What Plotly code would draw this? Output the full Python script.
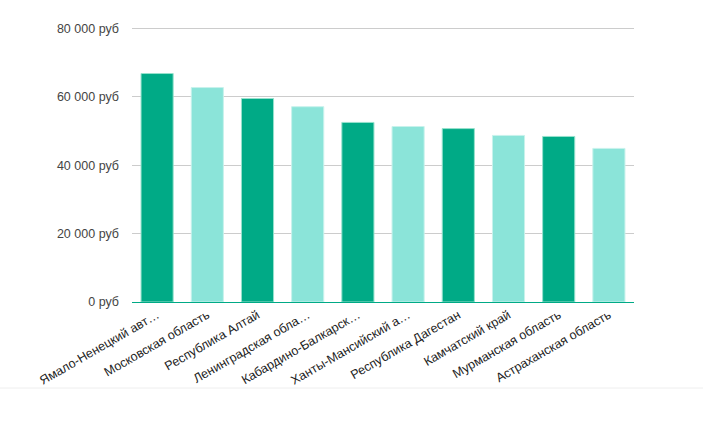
import plotly.graph_objects as go

regions = [
    "Ямало-Ненецкий авт…",
    "Московская область",
    "Республика Алтай",
    "Ленинградская обла…",
    "Кабардино-Балкарск…",
    "Ханты-Мансийский а…",
    "Республика Дагестан",
    "Камчатский край",
    "Мурманская область",
    "Астраханская область",
]
salaries = [66800, 62700, 59500, 57100, 52500, 51300, 50700, 48700, 48400, 44900]
y_ticks = [0, 20000, 40000, 60000, 80000]
y_tick_labels = ["0 руб", "20 000 руб", "40 000 руб", "60 000 руб", "80 000 руб"]

dark = "rgb(0,170,134)"
light = "rgb(139,228,217)"
colors = [dark if i % 2 == 0 else light for i in range(len(regions))]
line_colors = ["rgb(150,225,205)" if i % 2 == 0 else "rgb(200,242,236)" for i in range(len(regions))]

fig = go.Figure(go.Bar(
    x=regions,
    y=salaries,
    marker=dict(color=colors, line=dict(color=line_colors, width=1)),
    hoverinfo="x+y",
))

fig.update_layout(
    width=703, height=421,
    margin=dict(l=132, r=69, t=27, b=119),
    paper_bgcolor="white", plot_bgcolor="white",
    bargap=0.36,
    font=dict(family="Liberation Sans, Arial, sans-serif", size=12, color="#333333"),
    showlegend=False,
    xaxis=dict(
        tickangle=-30,
        showgrid=False,
        showline=True, linecolor=dark, linewidth=1,
        ticks="", tickfont=dict(size=12.6, color="#222222"),
    ),
    yaxis=dict(
        range=[0, 80400],
        tickmode="array",
        tickvals=y_ticks,
        ticktext=y_tick_labels,
        showgrid=True, gridcolor="#cccccc", gridwidth=1,
        zeroline=False,
        ticks="", ticklabelstandoff=12,
        tickfont=dict(size=12.5, color="#444444"),
    ),
    shapes=[dict(type="line", xref="paper", yref="paper",
                 x0=-132/502, x1=(703-132)/502, y0=-86/275, y1=-86/275,
                 line=dict(color="#eeeeee", width=1))],
)

fig.write_html("out.html")
